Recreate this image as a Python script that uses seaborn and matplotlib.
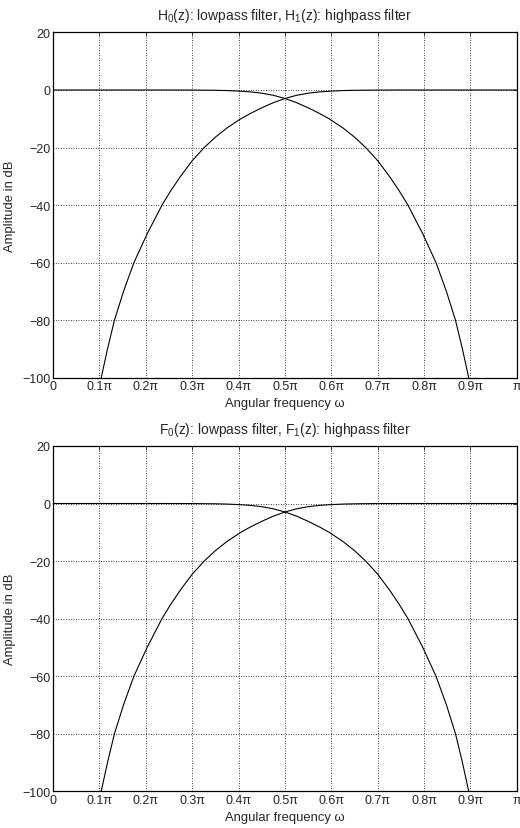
import matplotlib
matplotlib.use("Agg")
import matplotlib.pyplot as plt
import seaborn as sns
import pandas as pd

# frequency in units of pi, amplitude in dB
low_w = [0.0, 0.1, 0.2, 0.25, 0.3, 0.35, 0.375, 0.4, 0.425, 0.45, 0.475, 0.5,
         0.525, 0.55, 0.575, 0.595, 0.625, 0.65, 0.674, 0.7, 0.725, 0.746, 0.765,
         0.781, 0.797, 0.8255, 0.848, 0.8675, 0.8825, 0.896]
low_db = [0.0, 0.0, 0.0, 0.0, -0.02, -0.1, -0.2, -0.38, -0.65, -1.1, -1.85, -2.95,
          -4.4, -6.2, -8.2, -10.0, -13.2, -16.4, -20.0, -24.6, -30.0, -35.0, -40.0,
          -45.0, -50.0, -60.0, -70.0, -80.0, -90.0, -100.0]

high_w = [0.104, 0.1175, 0.1325, 0.152, 0.1745, 0.203, 0.219, 0.235, 0.254, 0.275,
          0.3, 0.326, 0.35, 0.375, 0.405, 0.425, 0.45, 0.475, 0.5, 0.525, 0.55,
          0.575, 0.6, 0.625, 0.65, 0.7, 0.75, 0.8, 0.9, 1.0]
high_db = [-100.0, -90.0, -80.0, -70.0, -60.0, -50.0, -45.0, -40.0, -35.0, -30.0,
           -24.6, -20.0, -16.4, -13.2, -10.0, -8.2, -6.2, -4.4, -2.95, -1.85, -1.1,
           -0.65, -0.38, -0.2, -0.1, -0.02, 0.0, 0.0, 0.0, 0.0]

x_ticks = [0, 0.1, 0.2, 0.3, 0.4, 0.5, 0.6, 0.7, 0.8, 0.9, 1.0]
x_labels = ["0", "0.1π", "0.2π", "0.3π", "0.4π", "0.5π", "0.6π", "0.7π", "0.8π", "0.9π", "π"]
y_ticks = [-100, -80, -60, -40, -20, 0, 20]
titles = ["H$_0$(z): lowpass filter, H$_1$(z): highpass filter",
          "F$_0$(z): lowpass filter, F$_1$(z): highpass filter"]

sns.set_style("white")
plt.rcParams['font.family'] = ['Liberation Sans', 'DejaVu Sans']
plt.rcParams['mathtext.fontset'] = 'custom'
plt.rcParams['mathtext.rm'] = 'Liberation Sans'
plt.rcParams['axes.unicode_minus'] = True

fig = plt.figure(figsize=(5.2, 8.29), dpi=100)
ax_pos = [[0.102, 0.5434, 0.892, 0.4162], [0.102, 0.0446, 0.892, 0.4162]]

df_low = pd.DataFrame({"w": low_w, "db": low_db})
df_high = pd.DataFrame({"w": high_w, "db": high_db})

for pos, title in zip(ax_pos, titles):
    ax = fig.add_axes(pos)
    sns.lineplot(data=df_low, x="w", y="db", ax=ax, color="black", lw=0.8, sort=False)
    sns.lineplot(data=df_high, x="w", y="db", ax=ax, color="black", lw=0.8, sort=False)
    ax.set_xlim(0, 1)
    ax.set_ylim(-100, 20)
    ax.set_xticks(x_ticks)
    ax.set_xticklabels(x_labels, fontsize=9)
    ax.set_yticks(y_ticks)
    ax.set_yticklabels([str(v).replace("-", "\u2212") for v in y_ticks], fontsize=9)
    ax.grid(True, color="black", linestyle=(0, (1, 2)), linewidth=0.6)
    for s in ax.spines.values():
        s.set_color("black")
        s.set_linewidth(0.9)
    ax.tick_params(direction="in", length=3, width=0.6, top=True, right=True, pad=2)
    ax.set_xlabel("Angular frequency ω", fontsize=9.4, labelpad=3.5)
    ax.set_ylabel("Amplitude in dB", fontsize=9.4, labelpad=4)
    ax.set_title(title, fontsize=10, pad=9.5)

fig.savefig("out.png", dpi=100)
